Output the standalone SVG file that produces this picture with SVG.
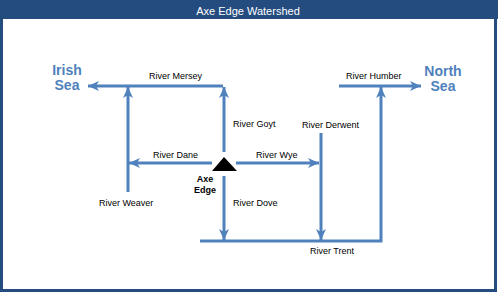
<svg xmlns="http://www.w3.org/2000/svg" width="498" height="293" viewBox="0 0 498 293">
<style>
.flow{stroke:#4f81bd;stroke-width:3;fill:none}
.lbl{font-family:"Liberation Sans",Arial,sans-serif;font-size:9px;fill:#000}
.sea{font-family:"Liberation Sans",Arial,sans-serif;font-size:14px;font-weight:bold;fill:#4f81bd;text-anchor:middle}
.src{font-family:"Liberation Sans",Arial,sans-serif;font-size:9px;font-weight:bold;fill:#000;text-anchor:middle}
</style>
<defs>
<marker id="ah" markerUnits="userSpaceOnUse" markerWidth="12" markerHeight="12" viewBox="0 0 12 12" refX="11" refY="6" orient="auto">
<path d="M0,1 L11,6 L0,11 L3,6 Z" fill="#4f81bd"/>
</marker>
</defs>
<rect x="0" y="0" width="498" height="293" fill="#ffffff"/>
<g id="frame">
<rect x="1.5" y="1.5" width="494" height="289" fill="#ffffff" stroke="#244c7f" stroke-width="3"/>
<rect x="0" y="0" width="498" height="19" fill="#244c7f"/>
<text x="248" y="15" text-anchor="middle" font-family="'Liberation Sans',Arial,sans-serif" font-size="11" fill="#ffffff">Axe Edge Watershed</text>
</g>
<g id="connectors">
<line id="mersey" class="flow" x1="223" y1="86" x2="88" y2="86" marker-end="url(#ah)"/>
<line id="weaver" class="flow" x1="128" y1="192" x2="128" y2="87" marker-end="url(#ah)"/>
<line id="goyt" class="flow" x1="224" y1="152" x2="224" y2="87" marker-end="url(#ah)"/>
<line id="dane" class="flow" x1="212" y1="163" x2="129" y2="163" marker-end="url(#ah)"/>
<line id="wye" class="flow" x1="236" y1="163" x2="319" y2="163" marker-end="url(#ah)"/>
<line id="derwent" class="flow" x1="321" y1="133" x2="321" y2="240" marker-end="url(#ah)"/>
<line id="dove" class="flow" x1="224" y1="176" x2="224" y2="240" marker-end="url(#ah)"/>
<polyline id="trent" class="flow" points="200,241 381,241 381,87" marker-end="url(#ah)"/>
<line id="humber" class="flow" x1="339" y1="86" x2="421" y2="86" marker-end="url(#ah)"/>
</g>
<g id="source">
<polygon points="224,157 212,171 237,171" fill="#000000"/>
<text class="src" x="205" y="182">Axe</text>
<text class="src" x="205" y="193">Edge</text>
</g>
<g id="irish-sea">
<text class="sea" x="67" y="75">Irish</text>
<text class="sea" x="67" y="90">Sea</text>
</g>
<g id="north-sea">
<text class="sea" x="443" y="76">North</text>
<text class="sea" x="443" y="91">Sea</text>
</g>
<g id="labels">
<text class="lbl" x="149" y="79">River Mersey</text>
<text class="lbl" x="233" y="127">River Goyt</text>
<text class="lbl" x="153" y="158">River Dane</text>
<text class="lbl" x="256" y="158">River Wye</text>
<text class="lbl" x="302" y="128">River Derwent</text>
<text class="lbl" x="99" y="206">River Weaver</text>
<text class="lbl" x="233" y="206">River Dove</text>
<text class="lbl" x="310" y="254">River Trent</text>
<text class="lbl" x="346" y="79">River Humber</text>
</g>
</svg>
